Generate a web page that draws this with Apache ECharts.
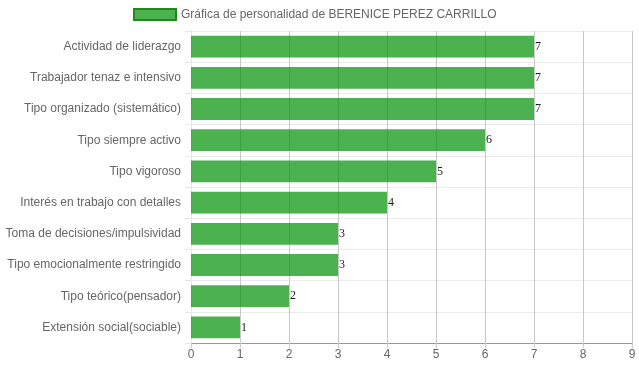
<!DOCTYPE html>
<html><head><meta charset="utf-8">
<script src="https://cdn.jsdelivr.net/npm/echarts@6/dist/echarts.min.js"></script>
<style>html,body{margin:0;padding:0;background:#fff}#c{width:639px;height:372px}</style>
</head><body><div id="c"></div>
<script>
var categories = ["Actividad de liderazgo","Trabajador tenaz e intensivo","Tipo organizado (sistemático)","Tipo siempre activo","Tipo vigoroso","Interés en trabajo con detalles","Toma de decisiones/impulsividad","Tipo emocionalmente restringido","Tipo teórico(pensador)","Extensión social(sociable)"];
var values = [7,7,7,6,5,4,3,3,2,1];
var xTicks = [0,1,2,3,4,5,6,7,8,9];
var seriesName = "Gráfica de personalidad de BERENICE PEREZ CARRILLO";

var chart = echarts.init(document.getElementById('c'));
chart.setOption({
  animation: false,
  legend: {
    top: 8, left: 133, itemWidth: 42, itemHeight: 11, itemGap: 8, padding: 0,
    icon: 'rect',
    textStyle: {color: '#666', fontFamily: 'Liberation Sans, Arial', fontSize: 12},
    data: [{name: seriesName, itemStyle: {color: 'rgba(0,145,5,0.7)', borderColor: '#1e8a1e', borderWidth: 2}}]
  },
  grid: {left: 191, right: 7, top: 31, bottom: 29},
  xAxis: {
    type: 'value', min: xTicks[0], max: xTicks[xTicks.length-1], interval: 1,
    axisLine: {show: true, lineStyle: {color: '#999'}},
    axisTick: {show: true, length: 5, lineStyle: {color: '#ccc'}},
    axisLabel: {color: '#666', fontFamily: 'Liberation Sans, Arial', fontSize: 12, margin: 6},
    splitLine: {show: true, lineStyle: {color: '#c8c8c8', width: 1}}
  },
  yAxis: {
    type: 'category', data: categories, inverse: true,
    axisLine: {show: true, lineStyle: {color: '#e6e6e6'}},
    axisTick: {show: true, length: 6, lineStyle: {color: '#e6e6e6'}},
    axisLabel: {color: '#666', fontFamily: 'Liberation Sans, Arial', fontSize: 12, margin: 10},
    splitLine: {show: true, lineStyle: {color: '#ebebeb'}}
  },
  series: [{
    name: seriesName, type: 'bar', data: values, barWidth: '70%',
    itemStyle: {color: 'rgba(0,145,5,0.7)'},
    label: {show: true, position: 'right', distance: 1, color: '#222', fontFamily: 'Liberation Serif, Times New Roman, serif', fontSize: 12}
  }]
});
</script></body></html>
